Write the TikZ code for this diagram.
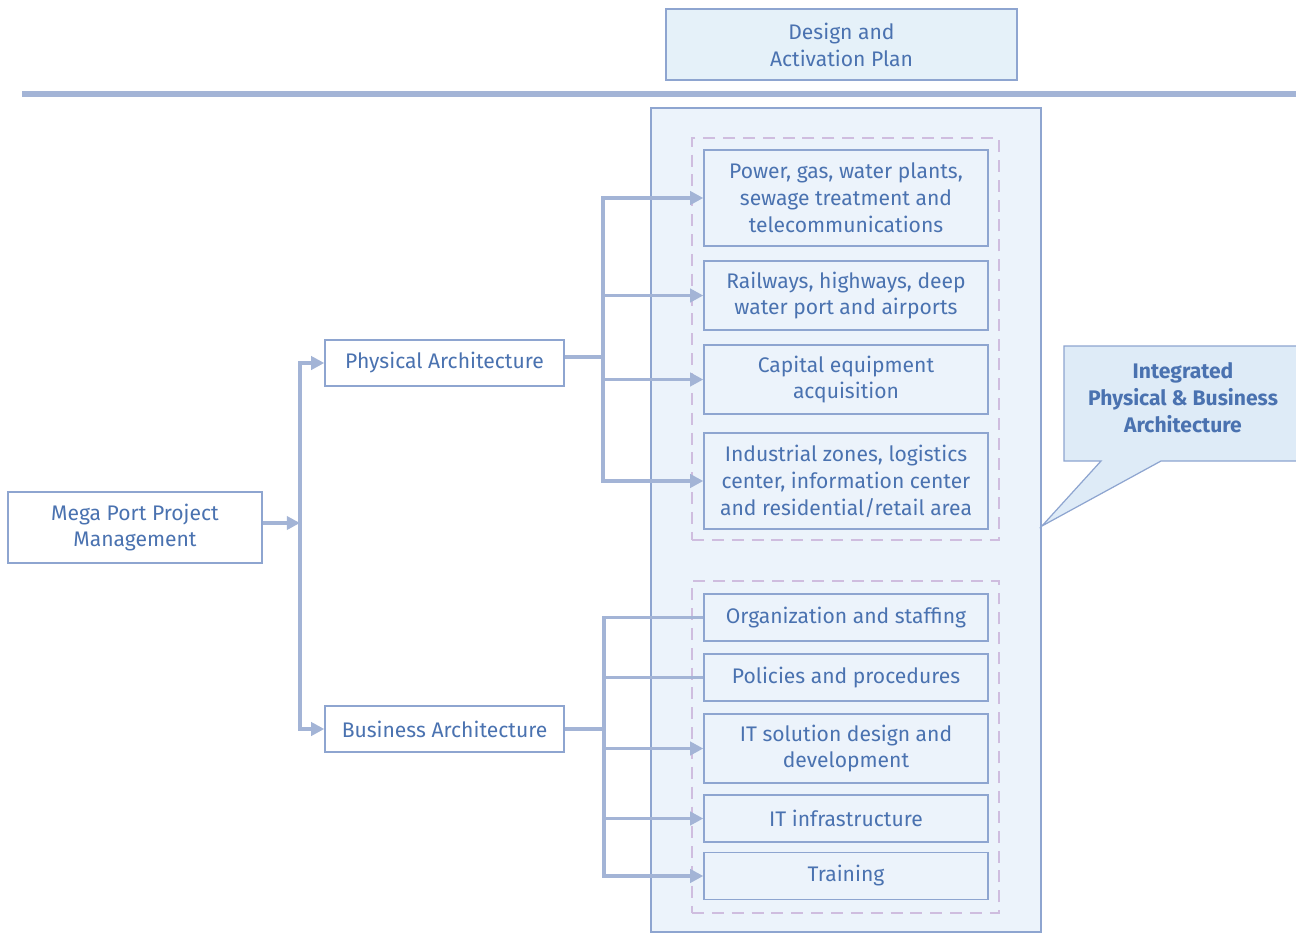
\documentclass[tikz,border=0pt]{standalone}
\usepackage{fontspec}
\setmainfont{Fira Sans}
\usetikzlibrary{arrows.meta,positioning,calc}
\definecolor{txtblue}{HTML}{4A72B0}
\definecolor{boxline}{HTML}{8EA5D0}
\definecolor{connblue}{HTML}{A3B4D6}
\definecolor{panelfill}{HTML}{ECF3FB}
\definecolor{topfill}{HTML}{E5F1F9}
\definecolor{calloutfill}{HTML}{DEEBF7}
\definecolor{grpline}{HTML}{CFBDDF}

\begin{document}
\begin{tikzpicture}[x=0.02cm, y=-0.02cm, align=center, text=txtblue,
  font=\fontsize{12}{15.3}\selectfont,
  box/.style={draw=boxline, line width=0.8pt, inner sep=0pt},
  leaf/.style={box, minimum width=5.68cm},
  grp/.style={draw=grpline, line width=1.5pt, dash pattern=on 6.8pt off 4.5pt, minimum width=6.14cm},
  conn/.style={draw=connblue, line width=1.9pt},
  arr/.style={conn, -{Triangle[length=7.5pt,width=7.5pt]}}]
\useasboundingbox (0,0) rectangle (1296,933);

\node (plan) [box, fill=topfill, minimum width=7.02cm, minimum height=1.42cm] at (841.5,44.5) {Design and\\Activation Plan};
\draw[connblue, line width=3.4pt] (22,94) -- (1296,94);

% -------------------------------

\node (panel) [draw=boxline, line width=1.1pt, fill=panelfill, minimum width=7.8cm, minimum height=16.48cm] at (846,520) {};
\node (grp1) [grp, minimum height=8.04cm] at (845.5,339) {};
\node (grp2) [grp, minimum height=6.64cm] at (845.5,747) {};

\node (p1) [leaf, minimum height=1.92cm] at (846,198) {Power, gas, water plants,\\sewage treatment and\\telecommunications};
\node (p2) [leaf, minimum height=1.38cm] at (846,295.5) {Railways, highways, deep\\water port and airports};
\node (p3) [leaf, minimum height=1.38cm] at (846,379.5) {Capital equipment\\acquisition};
\node (p4) [leaf, minimum height=1.92cm] at (846,481) {Industrial zones, logistics\\center, information center\\and residential/retail area};

\node (b1) [leaf, minimum height=0.94cm] at (846,617.5) {Organization and staffing};
\node (b2) [leaf, minimum height=0.94cm] at (846,677.5) {Policies and procedures};
\node (b3) [leaf, minimum height=1.38cm] at (846,748.5) {IT solution design and\\development};
\node (b4) [leaf, minimum height=0.94cm] at (846,818.5) {IT infrastructure};
\node (b5) [leaf, minimum height=0.94cm] at (846,876) {Training};

% -------------------------------

\node (mega) [box, fill=white, minimum width=5.08cm, minimum height=1.42cm] at (135,527.5) {Mega Port Project\\Management};
\node (phys) [box, fill=white, minimum width=4.78cm, minimum height=0.92cm] at (444.5,363) {Physical Architecture};
\node (bus) [box, fill=white, minimum width=4.78cm, minimum height=0.92cm] at (444.5,729) {Business Architecture};

\coordinate (split0) at (300,523);
\draw[arr] (mega.east|-split0) -- (split0);
\draw[arr] (split0) |- (phys.west);
\draw[arr] (split0) |- (bus.west);

\coordinate (split1) at (603,357);
\draw[conn] (phys.east|-split1) -- (split1);
\foreach \b in {p1,p2,p3,p4}
  \draw[arr] (split1) |- (\b.west);

\coordinate (split2) at (604,729);
\draw[conn] (bus.east) -- (split2);
\foreach \b in {b1,b2}
  \draw[conn] (split2) |- (\b.west);
\foreach \b in {b3,b4,b5}
  \draw[arr] (split2) |- (\b.west);

% -------------------------------

\draw[draw=boxline, line width=0.7pt, fill=calloutfill] (1064,346) -- (1297,346) -- (1297,461) -- (1161,461) -- (panel.east|-0,526) -- (1101,461) -- (1064,461) -- cycle;
\node (callout) at (1183,398) {\textbf{Integrated}\\\textbf{Physical \& Business}\\\textbf{Architecture}};
\end{tikzpicture}
\end{document}
